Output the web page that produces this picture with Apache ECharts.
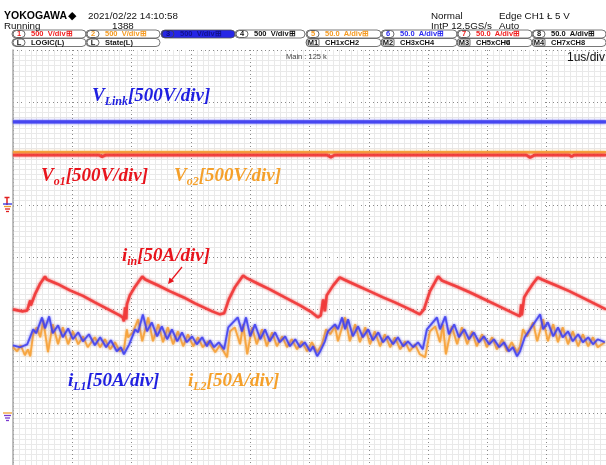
<!DOCTYPE html>
<html><head><meta charset="utf-8">
<script src="https://cdn.jsdelivr.net/npm/echarts@6/dist/echarts.min.js"></script>
<style>html,body{margin:0;padding:0;background:#fff}#c{width:606px;height:465px}</style>
</head><body><div id="c"></div>
<script>
// ---- data (time in microseconds; voltages in V; currents in A) ----
const vLink = [[0, 808], [10, 808]];
const vo2 = [[0, 515], [10, 515]];
const vo1 = [[0, 487], [1.45, 487], [1.5, 472], [1.56, 487], [5.3, 487], [5.36, 466], [5.42, 487], [8.66, 487], [8.72, 464], [8.8, 487], [9.38, 487], [9.42, 472], [9.46, 487], [10, 487]];
const iIn = [[0,100.0],[0.15,98.1],[0.24,99.0],[0.29,108.7],[0.30,103.8],[0.37,114.4],[0.46,125.0],[0.54,131.7],[0.57,128.8],[0.75,124.5],[0.96,118.3],[1.18,113.0],[1.38,106.7],[1.64,99.0],[1.80,94.2],[1.85,92.3],[1.87,88.5],[1.89,101.9],[1.91,90.4],[1.92,104.8],[1.97,113.5],[2.06,122.1],[2.18,131.7],[2.23,128.8],[2.45,123.0],[2.65,117.3],[2.88,111.5],[3.07,105.8],[3.36,98.1],[3.49,95.2],[3.56,96.2],[3.64,109.6],[3.74,121.2],[3.88,132.7],[3.95,129.8],[4.15,124.2],[4.33,119.2],[4.60,111.0],[4.84,103.8],[5.04,97.1],[5.14,92.3],[5.19,94.2],[5.23,109.6],[5.26,98.1],[5.29,113.5],[5.40,123.1],[5.51,130.8],[5.58,128.8],[5.80,123.0],[6.02,117.3],[6.24,111.6],[6.44,106.7],[6.73,99.0],[6.86,95.2],[6.93,100.0],[7.03,117.3],[7.17,131.7],[7.23,127.9],[7.48,122.0],[7.71,116.3],[7.93,110.2],[8.13,104.8],[8.41,97.1],[8.55,93.3],[8.57,104.8],[8.58,94.2],[8.62,111.5],[8.68,117.3],[8.77,125.0],[8.85,130.8],[8.92,128.8],[9.15,123.2],[9.39,117.3],[9.73,107.7],[10,100.0]];
const iL1 = [[0,65.4],[0.12,63.5],[0.24,66.3],[0.34,80.8],[0.39,76.9],[0.49,92.3],[0.54,81.7],[0.61,93.3],[0.67,76.9],[0.76,84.6],[0.84,73.1],[0.93,81.7],[1.01,71.2],[1.10,77.9],[1.18,69.2],[1.28,76.0],[1.38,65.4],[1.47,73.1],[1.57,63.5],[1.65,70.2],[1.75,59.6],[1.82,63.5],[1.87,56.7],[1.96,66.3],[2.06,80.8],[2.11,77.9],[2.19,95.2],[2.26,78.8],[2.34,87.5],[2.43,74.0],[2.51,83.7],[2.60,71.2],[2.68,80.8],[2.77,69.2],[2.85,77.9],[2.93,68.3],[3.02,74.0],[3.10,66.3],[3.19,73.1],[3.27,64.4],[3.32,70.2],[3.39,63.5],[3.47,68.3],[3.56,61.5],[3.63,82.7],[3.79,92.3],[3.86,78.8],[3.93,92.3],[4.00,74.0],[4.08,85.6],[4.17,71.2],[4.25,80.8],[4.33,69.2],[4.42,77.9],[4.50,68.3],[4.59,74.0],[4.67,64.4],[4.76,71.2],[4.84,63.5],[4.92,68.3],[5.01,59.6],[5.06,64.4],[5.13,54.8],[5.18,59.6],[5.26,69.2],[5.31,78.8],[5.43,85.6],[5.48,80.8],[5.55,92.3],[5.60,80.8],[5.65,90.4],[5.73,74.0],[5.82,83.7],[5.90,73.1],[5.99,80.8],[6.07,70.2],[6.16,77.9],[6.24,68.3],[6.32,74.0],[6.41,66.3],[6.49,73.1],[6.58,64.4],[6.66,69.2],[6.75,63.5],[6.83,68.3],[6.91,61.5],[6.98,80.8],[7.15,92.3],[7.20,80.8],[7.29,93.3],[7.35,76.0],[7.44,85.6],[7.52,73.1],[7.61,80.8],[7.69,71.2],[7.77,77.9],[7.86,68.3],[7.94,74.0],[8.03,66.3],[8.11,71.2],[8.20,63.5],[8.28,68.3],[8.36,59.6],[8.43,63.5],[8.50,54.8],[8.55,59.6],[8.63,73.1],[8.72,80.8],[8.89,95.2],[8.94,80.8],[9.02,87.5],[9.11,74.0],[9.19,82.7],[9.27,73.1],[9.36,78.8],[9.44,69.2],[9.53,76.0],[9.61,68.3],[9.70,73.1],[9.78,66.3],[9.86,71.2],[9.98,68.3]];
const iL2 = [[0,63.5],[0.07,59.6],[0.13,65.4],[0.20,55.8],[0.25,61.5],[0.29,54.8],[0.34,76.0],[0.40,82.7],[0.46,73.1],[0.51,89.4],[0.59,58.7],[0.67,85.6],[0.76,66.3],[0.84,82.7],[0.93,66.3],[1.01,78.8],[1.10,66.3],[1.18,74.0],[1.26,63.5],[1.38,73.1],[1.47,63.5],[1.55,71.2],[1.64,61.5],[1.72,68.3],[1.80,59.6],[1.87,61.5],[1.92,80.8],[1.94,73.1],[2.02,77.9],[2.11,90.4],[2.18,69.2],[2.28,92.3],[2.36,69.2],[2.45,85.6],[2.53,68.3],[2.61,82.7],[2.70,66.3],[2.78,78.8],[2.87,64.4],[2.95,76.0],[3.04,64.4],[3.12,73.1],[3.20,63.5],[3.29,69.2],[3.41,58.7],[3.49,65.4],[3.61,53.8],[3.66,78.8],[3.74,82.7],[3.83,66.3],[3.88,85.6],[3.95,56.7],[4.03,82.7],[4.11,66.3],[4.20,80.8],[4.28,64.4],[4.37,77.9],[4.45,64.4],[4.54,74.0],[4.62,63.5],[4.70,71.2],[4.79,61.5],[4.87,69.2],[4.96,59.6],[5.04,68.3],[5.13,58.7],[5.21,66.3],[5.28,80.8],[5.35,76.0],[5.43,83.7],[5.48,69.2],[5.60,92.3],[5.68,69.2],[5.77,85.6],[5.85,68.3],[5.94,82.7],[6.02,66.3],[6.10,78.8],[6.19,64.4],[6.27,76.0],[6.36,63.5],[6.44,73.1],[6.53,61.5],[6.61,69.2],[6.69,59.6],[6.78,66.3],[6.86,56.7],[6.95,53.8],[7.03,78.8],[7.12,83.7],[7.20,68.3],[7.25,85.6],[7.30,56.7],[7.40,83.7],[7.49,66.3],[7.57,82.7],[7.66,66.3],[7.74,78.8],[7.82,64.4],[7.91,76.0],[7.99,63.5],[8.08,73.1],[8.16,61.5],[8.25,71.2],[8.33,59.6],[8.41,68.3],[8.50,58.7],[8.55,64.4],[8.60,80.8],[8.67,74.0],[8.77,87.5],[8.84,69.2],[8.94,90.4],[9.02,69.2],[9.11,85.6],[9.19,68.3],[9.27,82.7],[9.36,66.3],[9.44,78.8],[9.53,64.4],[9.61,76.0],[9.70,64.4],[9.78,73.1],[9.86,63.5],[9.98,68.3]];

// axis scales: 1 us/div, 500 V/div, 50 A/div
const timeRange = [0, 10];
const voltRange = [-2500, 1500];
const ampRange = [-50, 350];

const RED = '#f03434', ORANGE = '#f6a23a', BLUE = '#4040f0';
const SANS = '"Liberation Sans", Arial, sans-serif';
const SERIF = '"Liberation Serif", "Times New Roman", serif';

function T(x, y, text, o) {
  return { type: 'text', x: x, y: y, z: 100, silent: true,
    style: Object.assign({ text: text, fill: '#111', fontFamily: SANS, fontSize: 10,
      align: 'left', verticalAlign: 'middle', textAlign: 'left', textVerticalAlign: 'middle' }, o || {}) };
}
function R(x, y, w, h, r, o) {
  return { type: 'rect', z: 99, silent: true, shape: { x: x, y: y, width: w, height: h, r: r },
    style: Object.assign({ fill: '#fff', stroke: '#555', lineWidth: 0.8 }, o || {}) };
}
function L(x1, y1, x2, y2, c, w) {
  return { type: 'line', z: 100, silent: true, shape: { x1: x1, y1: y1, x2: x2, y2: y2 }, style: { stroke: c, lineWidth: w || 1 } };
}
const g = [];
// header
g.push(T(4, 16, 'YOKOGAWA', { fontWeight: 'bold', fontSize: 10.5, fill: '#000' }));
g.push(T(68, 16, '\u25C6', { fontSize: 11, fill: '#000' }));
g.push(T(88, 16, '2021/02/22 14:10:58', { fontSize: 9.8 }));
g.push(T(4, 26, 'Running', { fontSize: 9.8 }));
g.push(T(112, 26, '1388', { fontSize: 9.8 }));
g.push(T(431, 16, 'Normal', { fontSize: 9.8 }));
g.push(T(499, 16, 'Edge CH1 \u0141 5 V', { fontSize: 9.8 }));
g.push(T(431, 26, 'IntP 12.5GS/s', { fontSize: 9.8 }));
g.push(T(499, 26, 'Auto', { fontSize: 9.8 }));

function tab(x, y, w, badge, label, color, opt) {
  opt = opt || {};
  g.push(R(x, y, w, 8, 4, { fill: opt.fill || '#fff' }));
  g.push(R(x + 1, y + 0.5, 12, 7, opt.square ? 1 : 3.5, { fill: opt.fill || '#fff', stroke: '#444' }));
  g.push(T(x + 7, y + 4.3, badge, { fontSize: 7.5, fontWeight: 'bold', fill: opt.badgeColor || color, align: 'center', textAlign: 'center' }));
  g.push(T(x + 19, y + 4.3, label, { fontSize: 7.5, fontWeight: 'bold', fill: opt.textColor || color }));
}
const r1 = 30, r2 = 38.5;
tab(12, r1, 74, '1', '500  V/div\u229E', '#f02020');
tab(86, r1, 74, '2', '500  V/div\u229E', '#f59a20');
tab(161, r1, 74, '3', '500  V/div\u229E', '#1818a0', { fill: '#2626e6', badgeColor: '#10107a', textColor: '#12128a' });
tab(235, r1, 70, '4', '500  V/div\u229E', '#111');
tab(306, r1, 75, '5', '50.0  A/div\u229E', '#f59a20');
tab(381, r1, 76, '6', '50.0  A/div\u229E', '#2a2af0');
tab(457, r1, 75, '7', '50.0  A/div\u229E', '#f02020');
tab(532, r1, 74, '8', '50.0  A/div\u229E', '#111');
tab(12, r2, 74, 'L', 'LOGIC(L)', '#111');
tab(86, r2, 74, 'L', 'State(L)', '#111');
tab(306, r2, 75, 'M1', 'CH1xCH2', '#111', { square: true });
tab(381, r2, 76, 'M2', 'CH3xCH4', '#111', { square: true });
tab(457, r2, 75, 'M3', 'CH5xCH6', '#111', { square: true });
tab(532, r2, 74, 'M4', 'CH7xCH8', '#111', { square: true });
g.push(T(505, 43, '\u0427', { fontSize: 8, fill: '#111' }));
g.push(T(286, 57, 'Main : 125 k', { fontSize: 7.5, fill: '#444' }));
g.push(T(605, 58, '1us/div', { fontSize: 12, fill: '#111', align: 'right', textAlign: 'right' }));

// ground markers
g.push(L(7, 197, 7, 205, '#e02020', 1.5));
g.push(L(4.5, 197.5, 9.5, 197.5, '#e02020', 1.5));
g.push(L(3, 204, 12, 204, '#3030e0', 1.3));
g.push(L(4, 206.5, 11, 206.5, '#f0a030', 1.3));
g.push(L(5, 209, 10, 209, '#e02020', 1.3));
g.push(L(6, 211.5, 9, 211.5, '#e02020', 1.3));
g.push(L(3, 413, 12, 413, '#f0a030', 1.3));
g.push(L(4, 415.5, 11, 415.5, '#7a3ad0', 1.3));
g.push(L(5, 418, 10, 418, '#7a3ad0', 1.3));
g.push(L(6, 420.5, 9, 420.5, '#7a3ad0', 1.3));

// annotations
const rich = function (c) {
  return {
    m: { fontFamily: SERIF, fontStyle: 'italic', fontWeight: 'bold', fontSize: 19, lineHeight: 24, fill: c, verticalAlign: 'middle' },
    s: { fontFamily: SERIF, fontStyle: 'italic', fontWeight: 'bold', fontSize: 12, lineHeight: 14, fill: c, verticalAlign: 'bottom' }
  };
};
function ann(x, y, main, sub, rest, c) {
  g.push({ type: 'text', x: x, y: y, z: 100, silent: true,
    style: { text: '{m|' + main + '}{s|' + sub + '}{m|' + rest + '}', rich: rich(c),
      align: 'left', verticalAlign: 'middle', textAlign: 'left', textVerticalAlign: 'middle' } });
}
ann(92, 96, 'V', 'Link', '[500V/div]', '#1f1fe0');
ann(41, 176, 'V', 'o1', '[500V/div]', '#e8141c');
ann(174, 176, 'V', 'o2', '[500V/div]', '#f5a02a');
ann(122, 256, 'i', 'in', '[50A/div]', '#e8141c');
ann(68, 381, 'i', 'L1', '[50A/div]', '#1f1fe0');
ann(188, 381, 'i', 'L2', '[50A/div]', '#f5a02a');
g.push(L(182, 267, 171, 280.5, '#e8141c', 1.2));
g.push({ type: 'polygon', z: 100, silent: true, shape: { points: [[168, 284], [174.1, 281.2], [169.5, 277.4]] }, style: { fill: '#e8141c' } });

const chart = echarts.init(document.getElementById('c'), null, { renderer: 'canvas' });
const line = function (name, data, color, width, yi, z, op) {
  return { name: name, type: 'line', data: data, yAxisIndex: yi, showSymbol: false, symbol: 'none', z: z,
    lineStyle: { color: color, width: width, opacity: op, shadowBlur: 2.5, shadowColor: color }, silent: true, animation: false };
};
chart.setOption({
  animation: false,
  backgroundColor: '#fff',
  grid: { left: 13, top: 50, width: 595, height: 415, containLabel: false },
  xAxis: { type: 'value', min: timeRange[0], max: timeRange[1], interval: 1,
    axisLabel: { show: false }, axisTick: { show: false }, axisLine: { show: false },
    splitLine: { show: true, lineStyle: { color: '#8a8a8a', type: [1, 3], width: 1 } },
    minorTick: { show: false, splitNumber: 10 },
    minorSplitLine: { show: true, lineStyle: { color: '#e9e9e9', width: 1 } } },
  yAxis: [
    { type: 'value', min: voltRange[0], max: voltRange[1], interval: 500, position: 'left',
      axisLabel: { show: false }, axisTick: { show: false },
      axisLine: { show: true, lineStyle: { color: '#a8a8a8', width: 1.5 } },
      splitLine: { show: true, lineStyle: { color: '#8a8a8a', type: [1, 3], width: 1 } },
      minorTick: { show: false, splitNumber: 10 },
      minorSplitLine: { show: true, lineStyle: { color: '#e9e9e9', width: 1 } } },
    { type: 'value', min: ampRange[0], max: ampRange[1], interval: 50, position: 'right',
      axisLabel: { show: false }, axisTick: { show: false }, axisLine: { show: false }, splitLine: { show: false } }
  ],
  series: [
    line('Vo2', vo2, ORANGE, 2.5, 0, 2, 0.95),
    line('Vo1', vo1, RED, 2.8, 0, 3, 0.85),
    line('VLink', vLink, BLUE, 3.2, 0, 4, 0.9),
    line('iin', iIn, RED, 2.6, 1, 5, 0.85),
    line('iL2', iL2, ORANGE, 1.8, 1, 6, 0.9),
    line('iL1', iL1, BLUE, 1.8, 1, 7, 0.85)
  ],
  graphic: g
});
</script></body></html>
